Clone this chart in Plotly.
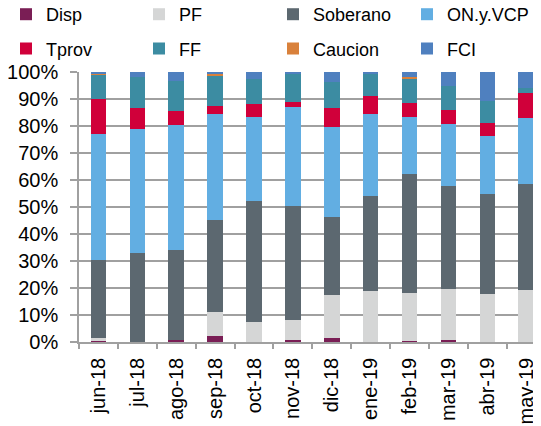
import plotly.graph_objects as go

months = ["jun-18", "jul-18", "ago-18", "sep-18", "oct-18", "nov-18",
          "dic-18", "ene-19", "feb-19", "mar-19", "abr-19", "may-19"]

disp     = [0.5, 0.0, 0.9, 2.4, 0.0, 0.7, 1.6, 0.0, 0.5, 0.6, 0.0, 0.0]
pf       = [0.9, 0.0, 0.0, 8.7, 7.3, 7.6, 15.9, 18.8, 17.8, 19.0, 17.9, 19.3]
soberano = [28.8, 32.8, 33.0, 34.1, 44.9, 42.2, 28.9, 35.3, 44.1, 38.2, 37.0, 39.1]
on_vcp   = [46.8, 46.2, 46.3, 39.3, 31.2, 36.5, 33.3, 30.4, 20.9, 22.8, 21.3, 24.5]
tprov    = [13.1, 7.8, 5.2, 3.0, 4.8, 2.0, 7.1, 6.5, 5.2, 5.2, 4.9, 9.2]
ff       = [9.0, 11.2, 11.3, 10.9, 9.3, 10.1, 9.5, 8.1, 8.8, 9.0, 8.1, 2.0]
caucion  = [0.4, 0.0, 0.0, 1.1, 0.0, 0.0, 0.0, 0.0, 0.8, 0.0, 0.0, 0.0]
fci      = [0.5, 2.0, 3.3, 0.5, 2.5, 0.9, 3.7, 0.9, 1.9, 5.2, 10.8, 5.9]

series = [
    ("Disp", disp, "#7a1e55"),
    ("PF", pf, "#d5d6d6"),
    ("Soberano", soberano, "#5c6870"),
    ("ON.y.VCP", on_vcp, "#62aee2"),
    ("Tprov", tprov, "#d0003a"),
    ("FF", ff, "#3c8ca2"),
    ("Caucion", caucion, "#d9813b"),
    ("FCI", fci, "#4f80bf"),
]

FONT = "Arial, 'Liberation Sans', sans-serif"
GRID = "#a0a0a0"
# the page has an 8px body margin, so the figure is sized to fit the window
W, H = 533, 418
L, T, B, R = 71, 64.4, 84, 0
PW, PH = W - L - R, H - T - B

# legend slots in figure pixels (item left edge, row centre)
col_x = [-2.0, 131.0, 265.0, 399.0]
row_y = [7.0, 41.3]

fig = go.Figure()
legends = {}
for i, (name, vals, color) in enumerate(series):
    lid = "legend" if i == 0 else f"legend{i + 1}"
    fig.add_trace(go.Bar(x=months, y=vals, name=name, marker_color=color,
                         marker_line_width=0, legend=lid, showlegend=True))
    legends[lid] = dict(
        orientation="h", xref="paper", yref="paper",
        x=(col_x[i % 4] - L) / PW, xanchor="left",
        y=1 + (T - row_y[i // 4]) / PH, yanchor="middle",
        bgcolor="rgba(0,0,0,0)", borderwidth=0, visible=True,
        font=dict(family=FONT, size=18, color="#000"),
        itemclick=False, itemdoubleclick=False)

fig.update_layout(
    width=W, height=H, showlegend=True,
    margin=dict(l=L, r=R, t=T, b=B, pad=0, autoexpand=False),
    paper_bgcolor="white", plot_bgcolor="white",
    barmode="stack", barnorm="percent", bargap=0.6,
    font=dict(family=FONT, size=20, color="#000"),
    xaxis=dict(range=[-0.5, 11.38], tickangle=-90, tickson="boundaries",
               ticks="outside", ticklen=5, tickwidth=1.5, tickcolor=GRID,
               showline=True, linecolor=GRID, linewidth=1.5,
               showgrid=False, automargin=False, ticklabelstandoff=6,
               tickfont=dict(size=20, color="#000")),
    yaxis=dict(range=[0, 100], dtick=10, ticksuffix="%",
               ticks="outside", ticklen=7, tickwidth=1.5, tickcolor=GRID,
               showline=True, linecolor=GRID, linewidth=1.5,
               showgrid=True, gridcolor=GRID, gridwidth=1.5, zeroline=False,
               automargin=False,
               tickfont=dict(size=20, color="#000"), ticklabelstandoff=8),
    **legends,
)

fig.write_html("out.html")
